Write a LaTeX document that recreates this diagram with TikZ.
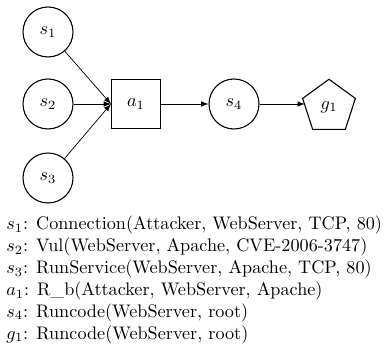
\documentclass[tikz,border=0pt]{standalone}
\usepackage{amsmath}
\usepackage{amssymb}
\usetikzlibrary{shapes.geometric,arrows}
\tikzset{%
	state/.style = {circle,draw,semithick,minimum size=27.5pt,inner sep=0},
	action/.style = {rectangle,draw,semithick,minimum size=27pt,inner sep=0},
	goal/.style = {regular polygon,regular polygon sides=5,draw,semithick,minimum size=30.5pt,inner sep=0},
	link/.style = {->,>=latex,thin}%
}

\begin{document}
\begin{tikzpicture}[x=0.55pt,y=-0.55pt]
	\useasboundingbox (0,0) rectangle (390,345);

	\node(s1)[state]at(48,32){$s_1$};
	\node(s2)[state]at(48,104){$s_2$};
	\node(s3)[state]at(48,178){$s_3$};
	\node(a1)[action]at(136,104){$a_1$};
	\node(s4)[state]at(234,104){$s_4$};
	\node(g1)[goal]at(329,107){$g_1$};

	\draw[link](s1)--(a1.west);
	\draw[link](s2)--(a1.west);
	\draw[link](s3)--(a1.west);
	\draw[link](a1)--(s4);
	\draw[link](s4)--(s4-|g1.west);

	\node(legend)[anchor=north west,align=left,inner sep=0]at(6,216){%
		$s_1$: Connection(Attacker, WebServer, TCP, 80)\\
		$s_2$: Vul(WebServer, Apache, CVE-2006-3747)\\
		$s_3$: RunService(WebServer, Apache, TCP, 80)\\
		$a_1$: R\_b(Attacker, WebServer, Apache)\\
		$s_4$: Runcode(WebServer, root)\\
		$g_1$: Runcode(WebServer, root)};
\end{tikzpicture}
\end{document}
